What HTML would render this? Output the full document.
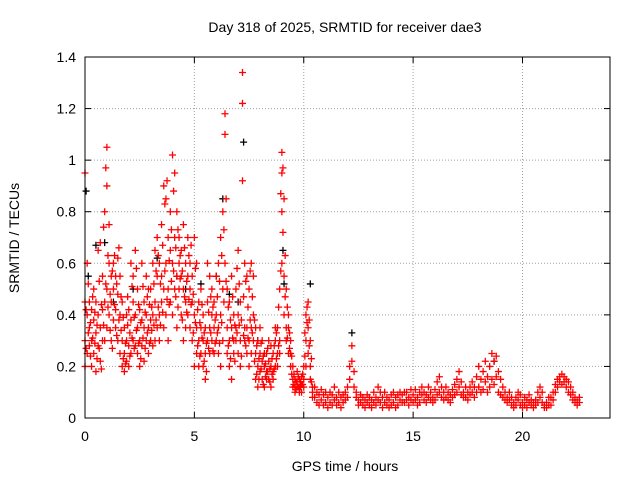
<!DOCTYPE html>
<html><head><meta charset="utf-8"><style>
body{margin:0;background:#fff;}
svg{display:block;font-family:"Liberation Sans",sans-serif;}
</style></head><body>
<svg id="chart" width="640" height="480">
<text x="345" y="32" font-size="14" text-anchor="middle">Day 318 of 2025, SRMTID for receiver dae3</text>
<text x="19" y="238" font-size="14" text-anchor="middle" transform="rotate(-90 19 238)">SRMTID / TECUs</text>
<text x="345" y="471" font-size="14" text-anchor="middle">GPS time / hours</text>
<g id="grid"></g>
<g id="ticks"></g>
<g id="blackpts"></g>
<g id="redpts"></g>
<rect x="85" y="57" width="525" height="361" fill="none" stroke="#000" stroke-width="1"/>
</svg>
<script>
const xTicks=[0,5,10,15,20];
const yTicks=[0,0.2,0.4,0.6,0.8,1,1.2,1.4];
const yTickLabels=["0","0.2","0.4","0.6","0.8","1","1.2","1.4"];
const redTimes=[0,0.1,0.2,0.3,0.4,0.5,0.6,0.7,0.8,0.9,1,1.1,1.2,1.3,1.4,1.5,1.6,1.7,1.8,1.9,2,2.1,2.2,2.3,2.4,2.5,2.6,2.7,2.8,2.9,3,3.1,3.2,3.3,3.4,3.5,3.6,3.7,3.8,3.9,4,4.1,4.2,4.3,4.4,4.5,4.6,4.7,4.8,4.9,5,5.1,5.2,5.3,5.4,5.5,5.6,5.7,5.8,5.9,6,6.1,6.2,6.3,6.4,6.5,6.6,6.7,6.8,6.9,7,7.1,7.2,7.3,7.4,7.5,7.6,7.7,7.8,7.9,8,8.1,8.2,8.3,8.4,8.5,8.6,8.7,8.8,8.9,9,9.1,9.2,9.3,9.4,9.5,9.6,9.7,9.8,9.9,10,10.1,10.2,10.3,10.4,
10.5,10.6,10.7,10.8,10.9,11,11.1,11.2,11.3,11.4,11.5,11.6,11.7,11.8,11.9,12,12.1,12.2,12.3,12.4,12.5,12.6,12.7,12.8,12.9,13,13.1,13.2,13.3,13.4,13.5,13.6,13.7,13.8,13.9,14,14.1,14.2,14.3,14.4,14.5,14.6,14.7,14.8,14.9,15,15.1,15.2,15.3,15.4,15.5,15.6,15.7,15.8,15.9,16,16.1,16.2,16.3,16.4,16.5,16.6,16.7,16.8,16.9,17,17.1,17.2,17.3,17.4,17.5,17.6,17.7,17.8,17.9,18,18.1,18.2,18.3,18.4,18.5,18.6,18.7,18.8,18.9,19,19.1,19.2,19.3,19.4,19.5,19.6,19.7,19.8,19.9,20,20.1,20.2,20.3,20.4,20.5,20.6,20.7,20.8,20.9,21,21.1,21.2,21.3,21.4,21.5,21.6,21.7,21.8,21.9,22,22.1,22.2,22.3,22.4,22.5,22.6];
const redValues=[[.95,.3,.2,.45],[.6,.25,.4],[.35,.45,.28],[.3,.2,.42],[.25,.38,.5],[.33,.18,.45],[.28,.4,.65],[.35,.22,.68],[.42,.3,.55],[.8,.45,.3],[1.05,.9,.5,.35],[.6,.4,.75],[.45,.55,.3],[.5,.38,.6],[.55,.42,.35],[.62,.48,.3],[.4,.25,.55],[.3,.2,.45],[.25,.35,.18],[.3,.22,.4],[.42,.28,.2],[.38,.6,.25],[.45,.3,.55],[.65,.4,.28],[.5,.35,.25],[.42,.3,.2],[.38,.28,.6],[.35,.45,.22],[.4,.3,.55],[.35,.25,.5],[.5,.3,.38],[.4,.6,.28],[.45,.3,.65],[.55,.35,.7],[.6,.4,.3],[.75,.45,.55],[.9,.5,.35],[.85,.6,.4],[.7,.5,.3],[.65,.45,.8],[1.02,.6,.4],[.95,.7,.5],[.8,.55,.35],[.7,.5,.6],[.65,.4,.55],[.75,.5,.3],[.6,.45,.35],[.7,.4,.55],[.6,.35,.5],[.55,.3,.45],[.7,.4,.2],[.6,.35,.25],[.45,.3,.2],[.5,.25,.35],[.4,.2,.3],[.35,.25,.15],[.45,.3,.6],[.55,.35,.25],[.5,.3,.4],[.45,.25,.35],[.4,.3,.55],[.6,.35,.25],[.7,.4,.2],[.8,.5,.3],[1.18,1.1,.6],[.5,.35,.25],[.45,.3,.2],[.55,.35,.15],[.4,.25,.3],[.5,.3,.35],[.65,.4,.25],[.45,.2,.3],[1.34,1.22,.92],[.6,.3,.35],[.55,.35,.25],[.5,.3,.2],[.6,.35,.25],[.55,.3,.4],[.35,.25,.15],[.3,.2,.12],[.25,.18,.35],[.22,.15,.3],[.2,.12,.25],[.18,.25,.15],[.22,.15,.3],[.2,.12,.28],[.25,.18,.15],[.3,.2,.35],[.35,.25,.2],[.5,.3,.25],[1.03,.95,.8,.6],[.85,.55,.4],[.5,.35,.3],[.4,.25,.35],[.3,.2,.25],[.2,.15,.12],[.15,.12,.1],[.18,.12,.14],[.15,.1,.12],[.13,.1,.16],[.2,.12,.15],[.4,.3,.2],[.45,.35,.25],[.3,.2,.15],[.12,.08,.1],
[.08,.12],[.06,.1],[.09,.05],[.07,.11],[.05,.09],[.1,.06],[.08,.04],[.06,.1],[.09,.05],[.07,.12],[.05,.08],[.1,.06],[.08,.04],[.06,.09],[.1,.07],[.12,.08],[.2,.15],[.28,.22],[.18,.12],[.1,.08],[.07,.05],[.06,.09],[.05,.08],[.07,.04],[.09,.06],[.05,.08],[.07,.04],[.1,.06],[.08,.05],[.12,.07],[.1,.06],[.08,.04],[.06,.1],[.05,.08],[.07,.04],[.09,.05],[.06,.1],[.08,.04],[.05,.09],[.07,.1],[.09,.06],[.06,.1],[.1,.07],[.08,.05],[.07,.11],[.09,.06],[.11,.07],[.08,.05],[.1,.06],[.09,.12],[.07,.1],[.09,.06],[.12,.08],[.1,.07],[.08,.06],[.11,.07],[.14,.09],[.16,.1],[.12,.08],[.1,.07],[.08,.12],[.1,.07],[.09,.06],[.11,.08],[.13,.09],[.15,.1],[.18,.12],[.14,.09],[.1,.08],[.12,.08],[.1,.07],[.09,.12],[.14,.1],[.12,.08],[.16,.1],[.2,.12],[.15,.1],[.18,.11],[.22,.14],[.16,.1],[.2,.12],[.25,.15],[.22,.13],[.24,.16],[.18,.1],[.15,.09],[.12,.08],[.1,.07],[.08,.06],[.07,.1],[.05,.08],[.06,.04],[.08,.05],[.07,.1],[.09,.05],[.06,.04],[.05,.08],[.07,.04],[.06,.09],[.05,.07],[.04,.06],[.07,.05],[.1,.06],[.12,.08],[.1,.06],[.05,.04],[.06,.04],[.05,.08],[.08,.05],[.1,.07],[.13,.1],[.15,.12],[.16,.14],[.17,.13],[.16,.14],[.15,.12],[.14,.1],[.12,.09],[.1,.07],[.08,.06],[.07,.05],[.06,.08]];
const redTimes2=[0.05,0.15,0.25,0.35,0.45,0.55,0.65,0.75,0.85,0.95,1.05,1.15,1.25,1.35,1.45,1.55,1.65,1.75,1.85,1.95,2.05,2.15,2.25,2.35,2.45,2.55,2.65,2.75,2.85,2.95,3.05,3.15,3.25,3.35,3.45,3.55,3.65,3.75,3.85,3.95,4.05,4.15,4.25,4.35,4.45,4.55,4.65,4.75,4.85,4.95,5.05,5.15,5.25,5.35,5.45,5.55,5.65,5.75,5.85,5.95,6.05,6.15,6.25,6.35,6.45,6.55,6.65,6.75,6.85,6.95,7.05,7.15,7.25,7.35,7.45,7.55,7.65,7.75,7.85,7.95,8.05,8.15,8.25,8.35,8.45,8.55,8.65,8.75,8.85,8.95,9.05,9.15,9.25,9.35,9.45,9.55,9.65,9.75,9.85,9.95,10.05,10.15,10.25,10.35];
const redValues2=[[.42,.27],[.33,.52],[.24,.37],[.47,.31],[.29,.41],[.36,.23],[.53,.27],[.44,.19],[.74,.36],[.97,.52],[.63,.43],[.48,.34],[.57,.27],[.44,.63],[.52,.32],[.66,.38],[.34,.47],[.23,.39],[.29,.21],[.36,.47],[.33,.24],[.51,.31],[.39,.27],[.58,.34],[.44,.29],[.37,.23],[.31,.51],[.41,.27],[.33,.47],[.29,.44],[.43,.34],[.52,.36],[.38,.57],[.63,.43],[.52,.36],[.67,.41],[.83,.57],[.92,.46],[.61,.44],[.73,.53],[.88,.57],[.66,.47],[.73,.43],[.63,.54],[.57,.38],[.66,.47],[.53,.41],[.63,.46],[.67,.44],[.48,.33],[.58,.37],[.42,.28],[.37,.24],[.44,.31],[.33,.22],[.29,.18],[.41,.27],[.47,.33],[.43,.26],[.38,.29],[.47,.33],[.53,.29],[.63,.37],[.73,.45],[.85,.53],[.43,.28],[.38,.23],[.47,.31],[.36,.22],[.58,.33],[.52,.36],[.38,.24],[.47,.32],[.53,.28],[.43,.31],[.57,.38],[.47,.33],[.38,.22],[.28,.17],[.23,.15],[.29,.19],[.24,.13],[.21,.16],[.27,.18],[.19,.14],[.23,.17],[.28,.19],[.33,.23],[.43,.28],[.87,.57],[.97,.72],[.63,.47],[.43,.31],[.33,.27],[.24,.17],[.17,.13],[.14,.11],[.16,.12],[.12,.14],[.17,.13],[.33,.24],[.43,.37],[.38,.28],[.23,.14]];
const blackTimes=[0.05,0.15,0.5,0.9,1.3,2.2,3.3,4.2,4.6,5.3,6.0,6.3,6.6,7.0,7.25,7.9,9.05,9.1,10.3,12.2,18.7];
const blackValues=[.88,.55,.67,.68,.45,.5,.62,.55,.5,.52,.55,.85,.48,.45,1.07,.3,.65,.52,.52,.33,.22];

const X0=85,X1=610,Y0=418,Y1=57,XMAX=24,YMAX=1.4;
const sx=v=>X0+(X1-X0)*v/XMAX;
const sy=v=>Y0-(Y0-Y1)*v/YMAX;
const NS="http://www.w3.org/2000/svg";
function mk(tag,parent,attrs){const e=document.createElementNS(NS,tag);for(const k in attrs)e.setAttribute(k,attrs[k]);parent.appendChild(e);return e;}
const grid=document.getElementById('grid'),ticks=document.getElementById('ticks');
yTicks.forEach((v,i)=>{
  const y=sy(v);
  if(i>0&&i<yTicks.length-1){const g=mk('line',grid,{x1:X0,x2:X1,y1:y,y2:y,stroke:'#a0a0a0','stroke-dasharray':'1,2'});
  
  }
  mk('line',ticks,{x1:X0,x2:X0+6,y1:y,y2:y,stroke:'#000'});
  mk('line',ticks,{x1:X1-6,x2:X1,y1:y,y2:y,stroke:'#000'});
  const t=mk('text',ticks,{x:X0-9,y:y+5,'font-size':14,'text-anchor':'end'});
  t.textContent=yTickLabels[i];
  
  
});
xTicks.forEach(v=>{
  const x=sx(v);
  if(v>0){const g=mk('line',grid,{x1:x,x2:x,y1:Y0,y2:Y1,stroke:'#a0a0a0','stroke-dasharray':'1,2'});
  
  }
  mk('line',ticks,{x1:x,x2:x,y1:Y0,y2:Y0-6,stroke:'#000'});
  mk('line',ticks,{x1:x,x2:x,y1:Y1,y2:Y1+6,stroke:'#000'});
  const t=mk('text',ticks,{x:x,y:Y0+23,'font-size':14,'text-anchor':'middle'});
  t.textContent=String(v);
  
  
});
function plus(parent,t,v,color,name){
  const x=sx(t),y=sy(v);
  const p=mk('path',parent,{d:`M${x-3.5},${y}h7M${x},${y-3.5}v7`,stroke:color,'stroke-width':1.3,fill:'none'});
  
  
}
const bp=document.getElementById('blackpts');
blackTimes.forEach((t,i)=>plus(bp,t,blackValues[i],'#000','black-point'));
const rp=document.getElementById('redpts');
redTimes.forEach((t,i)=>redValues[i].forEach(v=>plus(rp,t,v,'#ff0000','red-point')));
redTimes2.forEach((t,i)=>redValues2[i].forEach(v=>plus(rp,t,v,'#ff0000','red-point')));
</script>
</body></html>
